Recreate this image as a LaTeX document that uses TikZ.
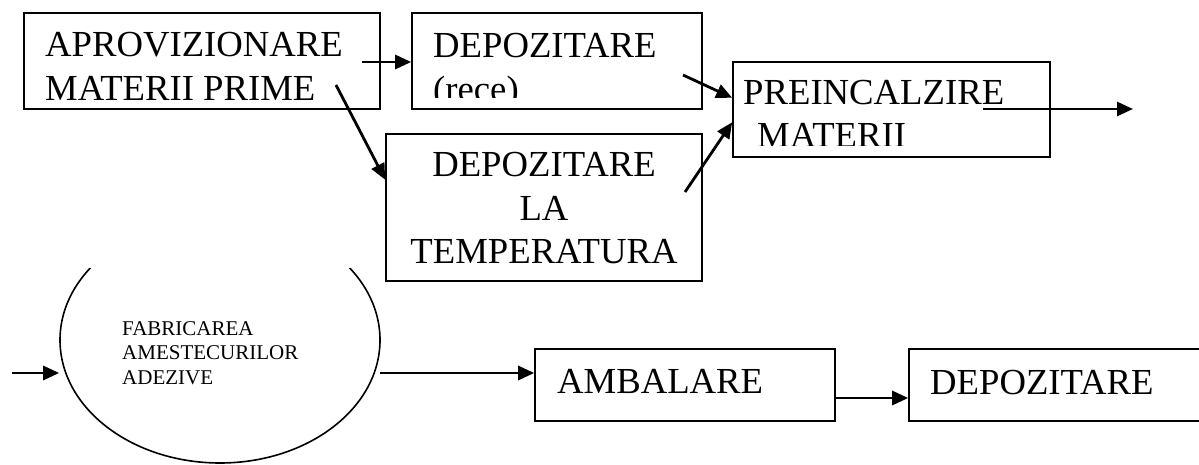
\documentclass[tikz,border=0pt]{standalone}
\usepackage{fontspec}
\setmainfont{Liberation Serif}
\usetikzlibrary{arrows.meta,calc,shapes.geometric}
\begin{document}
\begin{tikzpicture}[x=1pt,y=-1pt,
  box/.style={draw, line width=1.6pt, inner sep=0pt},
  flow/.style={line width=2.8pt, -{Triangle[length=16pt,width=14pt]}},
  big/.style={font=\fontsize{36.7}{42}\selectfont, inner sep=0pt, anchor=base west},
  bigc/.style={font=\fontsize{36.7}{42}\selectfont, inner sep=0pt, anchor=base},
  small/.style={font=\fontsize{21}{24.5}\selectfont, inner sep=0pt, anchor=base west}]
\useasboundingbox (0,0) rectangle (1199,465);
% boxes
\node[box, minimum width=356pt, minimum height=96pt] (b1) at (202,61) {};
\node[box, minimum width=290pt, minimum height=96pt] (b2) at (557,61) {};
\node[box, minimum width=317pt, minimum height=95pt] (b3) at (891.5,109.5) {};
\node[box, minimum width=316pt, minimum height=147pt] (b4) at (544,207.5) {};
\begin{scope}
\clip (0,268) rectangle (1199,465);
\node[box, ellipse, minimum width=320pt, minimum height=246pt] (e) at (220,340) {};
\end{scope}
\node[box, minimum width=300pt, minimum height=72pt] (b5) at (685,385) {};
\node[box, minimum width=301pt, minimum height=72pt] (b6) at (1059.5,385) {};
% texts
\node[big] (t1a) at (45,57) {APROVIZIONARE};
\begin{scope}
\clip (24,13) rectangle (380,99.5);
\node[big] (t1b) at (45,101) {MATERII PRIME};
\end{scope}
\node[big] (t2a) at (433,58) {DEPOZITARE};
\begin{scope}
\clip (412,13) rectangle (702,98);
\node[big] (t2b) at (433,102) {(rece)};
\end{scope}
\node[big] (t3a) at (743,105) {PREINCALZIRE};
\begin{scope}
\clip (733,62) rectangle (1050,146);
\node[big] (t3b) at (757,148) {MATERII};
\end{scope}
\node[bigc] (t4a) at (544,177) {DEPOZITARE};
\node[bigc] (t4b) at (544,221) {LA};
\node[bigc] (t4c) at (544,263) {TEMPERATURA};
\node[small] (t5a) at (122,335) {FABRICAREA};
\node[small] (t5b) at (122,359) {AMESTECURILOR};
\node[small] (t5c) at (122,384) {ADEZIVE};
\node[big] (t6) at (557,393) {AMBALARE};
\node[big] (t7) at (930,394) {DEPOZITARE};
% connector ends
\coordinate (s1) at (362,62);
\coordinate (s2) at (336,85);
\coordinate (s3) at (683,75);
\coordinate (s4) at (685,192);
\coordinate (s5) at (983,109);
\coordinate (e5) at (1133,109);
\coordinate (s6) at (12,373);
\coordinate (s7) at (380,373);
\coordinate (s8) at (835,398);
% connectors
\draw[flow] (s1) -- (s1 -| b2.west);
\draw[flow] (s2) -- ($(b4.north west)!0.313!(b4.south west)$);
\draw[flow] (s3) -- ($(b3.north west)!0.379!(b3.south west)$);
\draw[flow] (s4) -- ($(b3.north west)!0.632!(b3.south west)$);
\draw[flow] (s5) -- (e5);
\draw[flow] (s6) -- (s6 -| e.west);
\draw[flow] (s7) -- (s7 -| b5.west);
\draw[flow] (s8) -- (s8 -| b6.west);
\end{tikzpicture}
\end{document}
